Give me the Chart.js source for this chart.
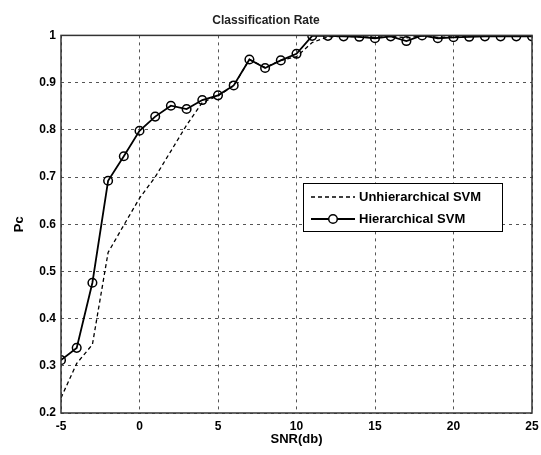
<!DOCTYPE html>
<html>
<head>
<meta charset="utf-8">
<title>Classification Rate</title>
<script src="https://cdn.jsdelivr.net/npm/chart.js@4/dist/chart.umd.min.js"></script>
<style>
  body { margin: 0; background: #fff; }
  canvas { display: block; }
</style>
</head>
<body>
<canvas id="rateChart" width="541" height="455"></canvas>
<script>
// SNR values (db) on the x axis
const snr = [-5, -4, -3, -2, -1, 0, 1, 2, 3, 4, 5, 6, 7, 8, 9, 10,
  11, 12, 13, 14, 15, 16, 17, 18, 19, 20, 21, 22, 23, 24, 25];

// Pc
const unhierarchical = [0.232, 0.305, 0.345, 0.54, 0.598, 0.655, 0.70, 0.755, 0.81, 0.858, 0.872, 0.893,
  0.949, 0.932, 0.947, 0.955, 0.985, 0.997, 0.998, 0.997, 0.996, 0.998, 0.995, 0.999, 0.996, 0.997,
  0.998, 0.998, 0.998, 0.998, 0.998];
const hierarchical = [0.312, 0.338, 0.476, 0.692, 0.744, 0.798, 0.828, 0.851, 0.844, 0.863, 0.873, 0.894,
  0.949, 0.931, 0.947, 0.961, 0.999, 0.999, 0.998, 0.997, 0.994, 0.998, 0.988, 1.0, 0.994, 0.996,
  0.997, 0.998, 0.998, 0.998, 0.998];

const xTicks = [-5, 0, 5, 10, 15, 20, 25];
const yTicks = [0.2, 0.3, 0.4, 0.5, 0.6, 0.7, 0.8, 0.9, 1];

const toPoints = (values) => values.map((v, i) => ({ x: snr[i], y: v }));

const tickFont = { family: 'Liberation Sans, Arial, sans-serif', size: 12, weight: 'bold' };

// MATLAB-like frame round the plot area
const framePlugin = {
  id: 'frame',
  afterDraw(chart) {
    const { ctx, chartArea: a } = chart;
    ctx.save();
    ctx.strokeStyle = '#333';
    ctx.lineWidth = 1.5;
    ctx.strokeRect(a.left, a.top, a.right - a.left, a.bottom - a.top);
    ctx.restore();
  }
};

// legend box inside the plot, like the original
const boxLegend = {
  id: 'boxLegend',
  afterDraw(chart) {
    const { ctx } = chart;
    const left = 303, top = 183, width = 199, height = 48;
    ctx.save();
    ctx.fillStyle = '#fff';
    ctx.fillRect(left, top, width, height);
    ctx.strokeStyle = '#000';
    ctx.lineWidth = 1;
    ctx.strokeRect(left + 0.5, top + 0.5, width, height);
    ctx.font = 'bold 13px "Liberation Sans", Arial, sans-serif';
    ctx.textBaseline = 'middle';
    chart.data.datasets.forEach((ds, i) => {
      const y = top + 14 + i * 22;
      ctx.strokeStyle = ds.borderColor;
      ctx.lineWidth = ds.borderWidth;
      ctx.setLineDash(ds.borderDash || []);
      ctx.beginPath();
      ctx.moveTo(left + 8, y);
      ctx.lineTo(left + 52, y);
      ctx.stroke();
      ctx.setLineDash([]);
      if (ds.pointRadius > 0) {
        ctx.lineWidth = ds.pointBorderWidth;
        ctx.beginPath();
        ctx.arc(left + 30, y, ds.pointRadius, 0, Math.PI * 2);
        ctx.fillStyle = '#fff';
        ctx.fill();
        ctx.stroke();
      }
      ctx.fillStyle = '#000';
      ctx.fillText(ds.label, left + 56, y);
    });
    ctx.restore();
  }
};

const chart = new Chart(document.getElementById('rateChart'), {
  type: 'line',
  data: {
    datasets: [{
      label: 'Unhierarchical SVM',
      data: toPoints(unhierarchical),
      borderColor: '#000',
      borderWidth: 1.3,
      borderDash: [4, 3],
      pointRadius: 0,
      tension: 0
    }, {
      label: 'Hierarchical SVM',
      data: toPoints(hierarchical),
      borderColor: '#000',
      borderWidth: 1.8,
      pointRadius: 4.3,
      pointBorderWidth: 1.5,
      pointBorderColor: '#000',
      pointBackgroundColor: 'rgba(255,255,255,0)',
      tension: 0
    }]
  },
  options: {
    responsive: false,
    animation: false,
    layout: { padding: { left: 0, right: 9, top: 0, bottom: 0 } },
    plugins: {
      legend: { display: false },
      tooltip: { enabled: false },
      title: {
        display: true,
        text: 'Classification Rate',
        color: '#222',
        font: { family: 'Liberation Sans, Arial, sans-serif', size: 12, weight: 'bold' },
        padding: { top: 13, bottom: 8 }
      }
    },
    scales: {
      x: {
        type: 'linear',
        min: -5,
        max: 25,
        afterFit: (scale) => {
          scale.height = 42;
          scale.paddingLeft = 0;
          scale.paddingRight = 0;
        },
        afterBuildTicks: (scale) => { scale.ticks = xTicks.map(v => ({ value: v })); },
        ticks: { color: '#000', font: tickFont, padding: 6 },
        grid: { color: '#555', lineWidth: 1, drawTicks: false },
        border: { display: false, dash: [3, 4] },
        title: {
          display: true,
          text: 'SNR(db)',
          color: '#000',
          font: { family: 'Liberation Sans, Arial, sans-serif', size: 13, weight: 'bold' },
          padding: { top: 0, bottom: 8 }
        }
      },
      y: {
        type: 'linear',
        min: 0.2,
        max: 1,
        afterFit: (scale) => { scale.width = 61; },
        afterBuildTicks: (scale) => { scale.ticks = yTicks.map(v => ({ value: v })); },
        ticks: {
          color: '#000',
          font: tickFont,
          padding: 5,
          callback: (v) => String(+v.toFixed(1))
        },
        grid: { color: '#555', lineWidth: 1, drawTicks: false },
        border: { display: false, dash: [3, 4] },
        title: {
          display: true,
          text: 'Pc',
          color: '#000',
          font: { family: 'Liberation Sans, Arial, sans-serif', size: 13, weight: 'bold' },
          padding: { top: 12, bottom: 0 }
        }
      }
    }
  },
  plugins: [framePlugin, boxLegend]
});
</script>
</body>
</html>
